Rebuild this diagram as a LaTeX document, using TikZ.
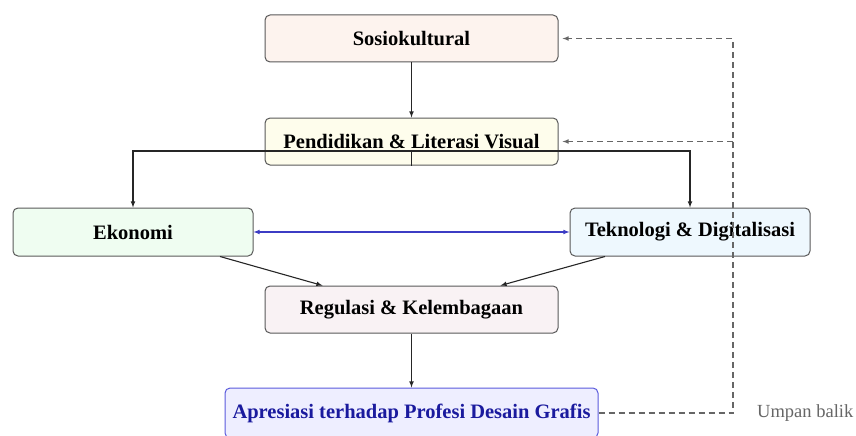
\documentclass[tikz,border=0pt]{standalone}
\usepackage{fontspec}
\setmainfont{Liberation Serif}
\usepackage{xcolor}
\usetikzlibrary{arrows,positioning}

\definecolor{sosfill}{HTML}{FDF3EE}
\definecolor{pendfill}{HTML}{FEFDEC}
\definecolor{ekofill}{HTML}{EFFDF1}
\definecolor{tekfill}{HTML}{EEF8FE}
\definecolor{regfill}{HTML}{F9F2F4}
\definecolor{aprfill}{HTML}{EEEEFF}
\definecolor{aprdraw}{HTML}{5A5ADC}
\definecolor{aprtext}{HTML}{1A1A9E}
\definecolor{duallink}{HTML}{3C3CC4}
\definecolor{fbgray}{HTML}{666666}

\begin{document}
\begin{tikzpicture}[x=1pt,y=-1pt]
		\tikzstyle{factor}=[draw=black!65, line width=1pt, rounded corners=5pt, minimum width=293pt, minimum height=47pt, font=\bfseries\fontsize{20.5}{24}\selectfont]
		\tikzstyle{side}=[factor, minimum width=240pt, minimum height=48pt]
		\tikzstyle{target}=[factor, draw=aprdraw, fill=aprfill, text=aprtext, minimum width=373pt, minimum height=50pt]
		\tikzstyle{link}=[-latex, line width=1.1pt, draw=black!85]
		\tikzstyle{feedback}=[-latex, draw=fbgray, line width=1.1pt, dash pattern=on 6pt off 4pt, shorten >=4pt]

		\useasboundingbox (0,0) rectangle (856,436);
		\clip (0,0) rectangle (856,436);

		\node [factor, fill=sosfill] (sosio) at (411.5,38.5) {Sosiokultural};
		\node [factor, fill=pendfill] (pend) [below=55pt of sosio] {Pendidikan \& Literasi Visual};
		\node [side, fill=ekofill] (eko) at (133,232) {Ekonomi};
		\node [side, fill=tekfill] (tek) at (690,232) {Teknologi \& Digitalisasi};
		\node [factor, fill=regfill] (reg) at (411.5,309.5) {Regulasi \& Kelembagaan};
		\node [target] (apr) at (411.5,413) {Apresiasi terhadap Profesi Desain Grafis};

		\coordinate (split) at (411.5,151);
		\coordinate (fbtop) at (733,38.5);
		\node [right=24pt of apr.east -| fbtop, inner sep=0pt, text=fbgray, font=\fontsize{18.5}{22}\selectfont] (umpan) {Umpan balik};

	\draw[link] (sosio) -- (pend);
	\draw[line width=1.1pt, draw=black!85] (pend.south) -- (split);
	\draw[link] (split) -| (eko.north);
	\draw[link] (split) -| (tek.north);

	\draw[latex-latex, line width=1.1pt, draw=duallink] (eko) -- (tek);

	\draw[link] ([xshift=87pt]eko.south) -- ([xshift=-89pt]reg.north);
	\draw[link] ([xshift=-85pt]tek.south) -- ([xshift=89pt]reg.north);
	\draw[link] (reg) -- (apr);

	% umpan balik
	\draw[feedback] (apr.east) -| (fbtop) -- (sosio.east);
	\draw[feedback] (pend.east -| fbtop) -- (pend.east);
	\end{tikzpicture}
\end{document}
